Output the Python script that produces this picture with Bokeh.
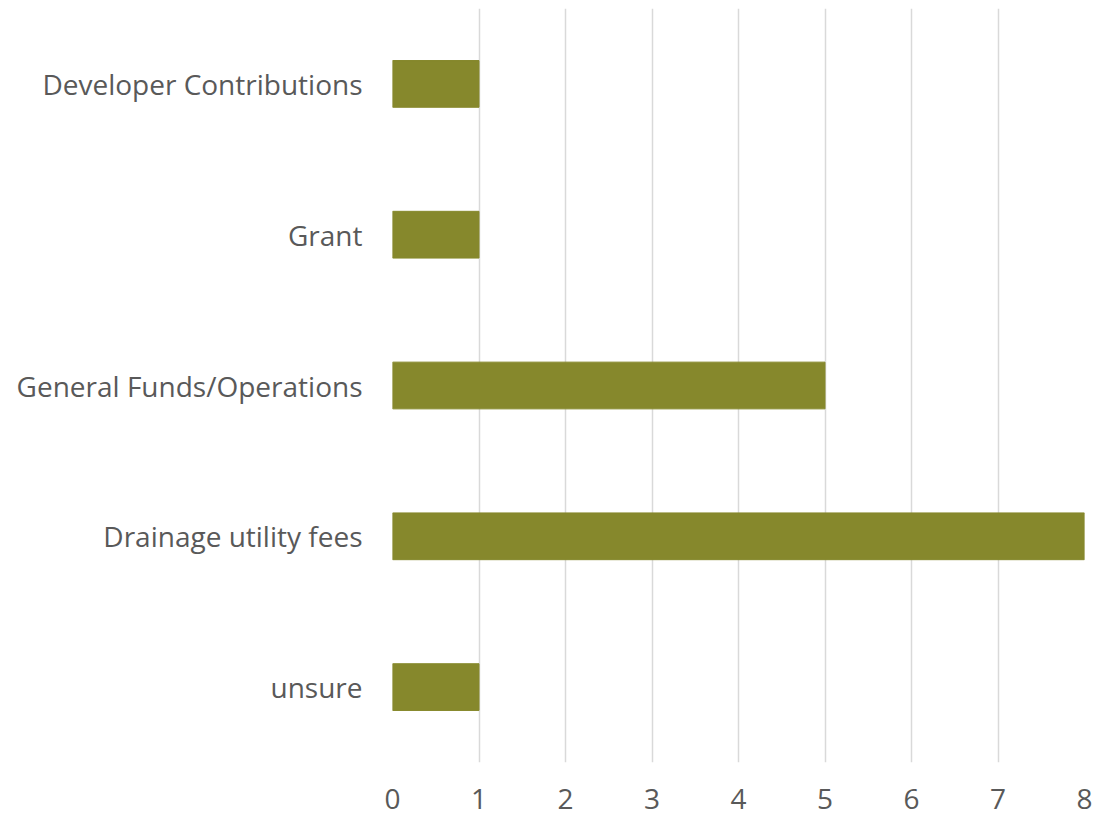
from bokeh.plotting import figure
from bokeh.models import FactorRange, Range1d, FixedTicker
from bokeh.embed import file_html
from bokeh.resources import INLINE

categories = ["Developer Contributions", "Grant", "General Funds/Operations",
              "Drainage utility fees", "unsure"]
counts = [1, 1, 5, 8, 1]
x_ticks = [0, 1, 2, 3, 4, 5, 6, 7, 8]

factors = list(reversed(categories))
p = figure(width=1099, height=820, output_backend="svg", toolbar_location=None,
           y_range=FactorRange(factors=factors, range_padding=0),
           x_range=Range1d(0, 8))
p.min_border_left = 392
p.min_border_right = 15
p.min_border_top = 8
p.min_border_bottom = 58
p.outline_line_color = None

p.hbar(y=categories, right=counts, left=0, height=0.31, color="#86882C")

p.xaxis.ticker = FixedTicker(ticks=x_ticks)
for ax in (p.xaxis[0], p.yaxis[0]):
    ax.axis_line_color = None
    ax.major_tick_line_color = None
    ax.minor_tick_line_color = None
    ax.major_label_text_font = "Open Sans"
    ax.major_label_text_font_size = "28px"
    ax.major_label_text_color = "#595959"
p.yaxis.major_label_standoff = 24
p.xaxis.major_label_standoff = 20

p.xgrid.grid_line_color = "#D9D9D9"
p.xgrid.grid_line_width = 1.5
p.ygrid.grid_line_color = None

open("out.html", "w").write(file_html(p, INLINE))
